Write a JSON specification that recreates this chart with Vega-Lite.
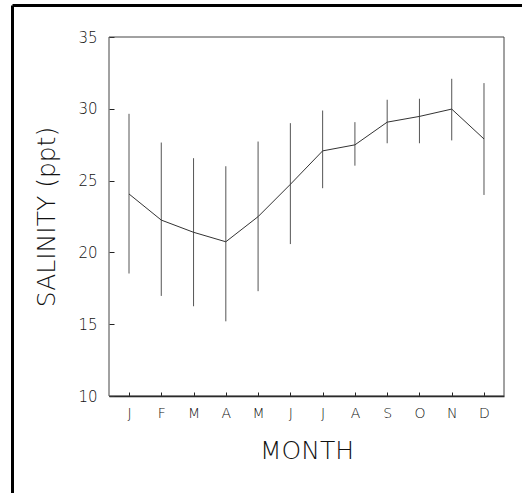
{
  "$schema": "https://vega.github.io/schema/vega-lite/v6.json",
  "width": 510,
  "height": 488,
  "padding": {"left": 12, "top": 5, "right": 0, "bottom": 0},
  "autosize": {"type": "none"},
  "background": "white",
  "config": {"view": {"stroke": null}, "axis": {"grid": false}},
  "data": {
    "values": [
      {"month": 1, "salinity": 24.07, "high": 29.65, "low": 18.53},
      {"month": 2, "salinity": 22.25, "high": 27.65, "low": 16.97},
      {"month": 3, "salinity": 21.4, "high": 26.56, "low": 16.25},
      {"month": 4, "salinity": 20.74, "high": 26.0, "low": 15.2},
      {"month": 5, "salinity": 22.49, "high": 27.72, "low": 17.3},
      {"month": 6, "salinity": 24.74, "high": 29.0, "low": 20.58},
      {"month": 7, "salinity": 27.07, "high": 29.88, "low": 24.47},
      {"month": 8, "salinity": 27.49, "high": 29.07, "low": 26.04},
      {"month": 9, "salinity": 29.07, "high": 30.63, "low": 27.6},
      {"month": 10, "salinity": 29.47, "high": 30.7, "low": 27.6},
      {"month": 11, "salinity": 29.98, "high": 32.09, "low": 27.8},
      {"month": 12, "salinity": 27.9, "high": 31.79, "low": 24.0}
    ]
  },
  "layer": [
    {
      "data": {"values": [{"frame": 0}]},
      "mark": {"type": "point", "opacity": 0},
      "encoding": {
        "x": {"field": "frame", "type": "quantitative", "scale": {"domain": [0, 1], "nice": false},
          "axis": {"orient": "top", "domain": true, "domainColor": "black", "domainWidth": 3, "ticks": false, "labels": false, "title": null, "grid": false}},
        "y": {"field": "frame", "type": "quantitative", "scale": {"domain": [0, 1], "nice": false},
          "axis": {"orient": "left", "domain": true, "domainColor": "black", "domainWidth": 3, "ticks": false, "labels": false, "title": null, "grid": false}}
      }
    },
    {
      "layer": [
        {
          "data": {"values": [{"x0": 0.38, "x1": 12.62, "y0": 10, "y1": 35}]},
          "mark": {"type": "rect", "fill": "transparent", "stroke": "#444", "strokeWidth": 1},
          "encoding": {
            "x": {
              "field": "x0", "type": "quantitative",
              "scale": {"domain": [0.38, 12.62], "range": [97, 492], "nice": false, "zero": false},
              "axis": {
                "orient": "bottom", "offset": -97,
                "values": [1, 2, 3, 4, 5, 6, 7, 8, 9, 10, 11, 12],
                "labelExpr": "['J','F','M','A','M','J','J','A','S','O','N','D'][datum.value-1]",
                "tickSize": -4, "tickColor": "#222", "tickWidth": 1,
                "domain": true, "domainColor": "#111", "domainWidth": 1.5,
                "labelFont": "DejaVu Sans", "labelFontWeight": 200, "labelFontSize": 14, "labelColor": "#111",
                "labelPadding": 14, "labelFlush": false, "labelOverlap": false,
                "title": "MONTH", "titleFont": "DejaVu Sans", "titleFontSize": 25, "titleFontWeight": 200,
                "titleColor": "#111", "titlePadding": 18, "grid": false
              }
            },
            "x2": {"field": "x1"},
            "y": {
              "field": "y0", "type": "quantitative",
              "scale": {"domain": [10, 35], "range": [391, 32], "nice": false, "zero": false},
              "axis": {
                "orient": "left", "offset": -97,
                "values": [10, 15, 20, 25, 30, 35], "format": "d",
                "tickSize": -5, "tickColor": "#222", "tickWidth": 1,
                "domain": false,
                "labelFont": "DejaVu Sans", "labelFontWeight": 200, "labelFontSize": 15, "labelColor": "#111",
                "labelPadding": 17, "labelFlush": false, "labelOverlap": false,
                "title": "SALINITY (ppt)", "titleFont": "DejaVu Sans", "titleFontSize": 25, "titleFontWeight": 200,
                "titleColor": "#111", "titlePadding": 18, "grid": false
              }
            },
            "y2": {"field": "y1"}
          }
        },
        {
          "mark": {"type": "rule", "stroke": "#555", "strokeWidth": 1},
          "encoding": {
            "x": {"field": "month", "type": "quantitative"},
            "y": {"field": "low", "type": "quantitative"},
            "y2": {"field": "high"}
          }
        },
        {
          "mark": {"type": "line", "stroke": "#333", "strokeWidth": 1},
          "encoding": {
            "x": {"field": "month", "type": "quantitative"},
            "y": {"field": "salinity", "type": "quantitative"}
          }
        }
      ]
    }
  ],
  "resolve": {
    "scale": {"x": "independent", "y": "independent"},
    "axis": {"x": "independent", "y": "independent"}
  }
}
